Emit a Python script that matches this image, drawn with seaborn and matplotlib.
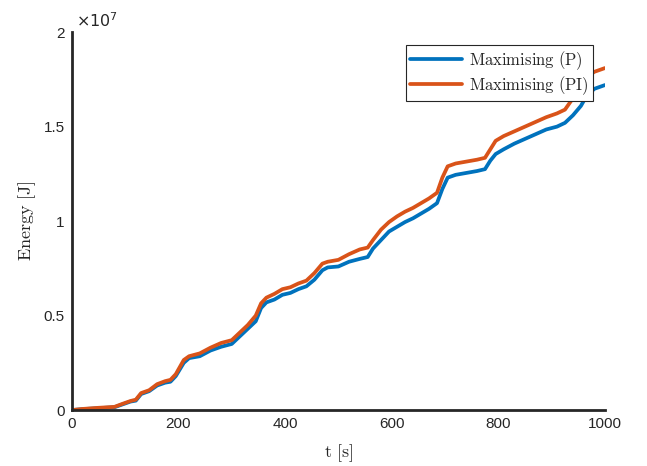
import numpy as np
import pandas as pd
import matplotlib
matplotlib.use("Agg")
import matplotlib.pyplot as plt
import seaborn as sns
from matplotlib.ticker import FuncFormatter
from matplotlib.lines import Line2D

t = [0, 20, 50, 80, 95, 110, 120, 130, 145, 160, 175, 185, 195, 210, 220, 240, 260, 280,
     300, 315, 330, 345, 355, 365, 380, 395, 410, 425, 440, 455, 470, 480, 500, 520, 540,
     555, 565, 580, 595, 610, 625, 640, 655, 670, 685, 695, 705, 720, 740, 760, 775, 785,
     795, 810, 830, 850, 870, 890, 910, 925, 940, 955, 965, 980, 990, 1000]
energy_p = [0, 0.05, 0.1, 0.15, 0.3, 0.45, 0.5, 0.85, 1.0, 1.3, 1.45, 1.5, 1.8, 2.5, 2.75,
            2.85, 3.15, 3.35, 3.5, 3.9, 4.3, 4.7, 5.4, 5.7, 5.85, 6.1, 6.2, 6.4, 6.55, 6.9,
            7.4, 7.55, 7.6, 7.85, 8.0, 8.1, 8.55, 9.0, 9.45, 9.7, 9.95, 10.15, 10.4, 10.65,
            10.95, 11.7, 12.3, 12.45, 12.55, 12.65, 12.75, 13.2, 13.55, 13.8, 14.1, 14.35,
            14.6, 14.85, 15.0, 15.2, 15.6, 16.1, 16.6, 17.0, 17.1, 17.2]
energy_pi = [0, 0.06, 0.12, 0.17, 0.33, 0.48, 0.55, 0.9, 1.05, 1.37, 1.53, 1.6, 1.9, 2.65,
             2.85, 3.0, 3.3, 3.55, 3.7, 4.1, 4.5, 5.0, 5.65, 5.95, 6.15, 6.4, 6.5, 6.7, 6.85,
             7.25, 7.75, 7.85, 7.95, 8.25, 8.5, 8.6, 9.0, 9.55, 9.95, 10.25, 10.5, 10.7,
             10.95, 11.2, 11.5, 12.3, 12.9, 13.05, 13.15, 13.25, 13.35, 13.8, 14.25, 14.5,
             14.75, 15.0, 15.25, 15.5, 15.7, 15.9, 16.5, 17.1, 17.6, 17.9, 18.0, 18.1]
labels = ["Maximising (P)", "Maximising (PI)"]
colors = ["#0072BD", "#D95319"]
x_ticks = [0, 200, 400, 600, 800, 1000]
y_ticks = [0, 0.5e7, 1e7, 1.5e7, 2e7]

df = pd.DataFrame({
    "t": t + t,
    "E": [v * 1e6 for v in energy_p] + [v * 1e6 for v in energy_pi],
    "series": [labels[0]] * len(t) + [labels[1]] * len(t),
})

sns.set_style("white")
plt.rcParams["font.family"] = ["Liberation Sans", "DejaVu Sans"]
plt.rcParams["mathtext.fontset"] = "cm"

fig = plt.figure(figsize=(6.47, 4.66), dpi=100)
ax = fig.add_axes([0.111, 0.120, 0.824, 0.811])
sns.lineplot(data=df, x="t", y="E", hue="series", palette=colors, linewidth=2.7,
             ax=ax, legend=False)

ax.set_xlim(0, 1000)
ax.set_ylim(0, 2e7)
ax.set_xticks(x_ticks)
ax.set_yticks(y_ticks)
ax.yaxis.set_major_formatter(FuncFormatter(lambda v, p: "%g" % (v / 1e7)))
ax.text(0.008, 1.005, r"$\times 10^{7}$", transform=ax.transAxes, fontsize=11.5,
        math_fontfamily="dejavusans", color="#262626", ha="left", va="bottom")

for s in ["top", "right"]:
    ax.spines[s].set_visible(False)
for s in ["left", "bottom"]:
    ax.spines[s].set_color("#262626")
    ax.spines[s].set_linewidth(2.0)
ax.tick_params(direction="in", length=5, width=2.0, colors="#262626",
               labelsize=11, pad=5)

ax.set_xlabel(r"$\mathrm{t\ [s]}$", fontsize=13, color="#262626", labelpad=8)
ax.set_ylabel(r"$\mathrm{Energy\ [J]}$", fontsize=13, color="#262626")

handles = [Line2D([0], [0], color=c, lw=2.7) for c in colors]
leg = ax.legend(handles, [r"$\mathrm{Maximising\ (P)}$", r"$\mathrm{Maximising\ (PI)}$"],
                loc="upper right", bbox_to_anchor=(0.977, 0.966), fontsize=12,
                frameon=True, fancybox=False, framealpha=1, edgecolor="#262626",
                handlelength=3.1, handletextpad=0.4, borderpad=0.25, labelspacing=0.15,
                borderaxespad=0)
leg.get_frame().set_linewidth(0.8)

fig.savefig("out.png", dpi=100)
